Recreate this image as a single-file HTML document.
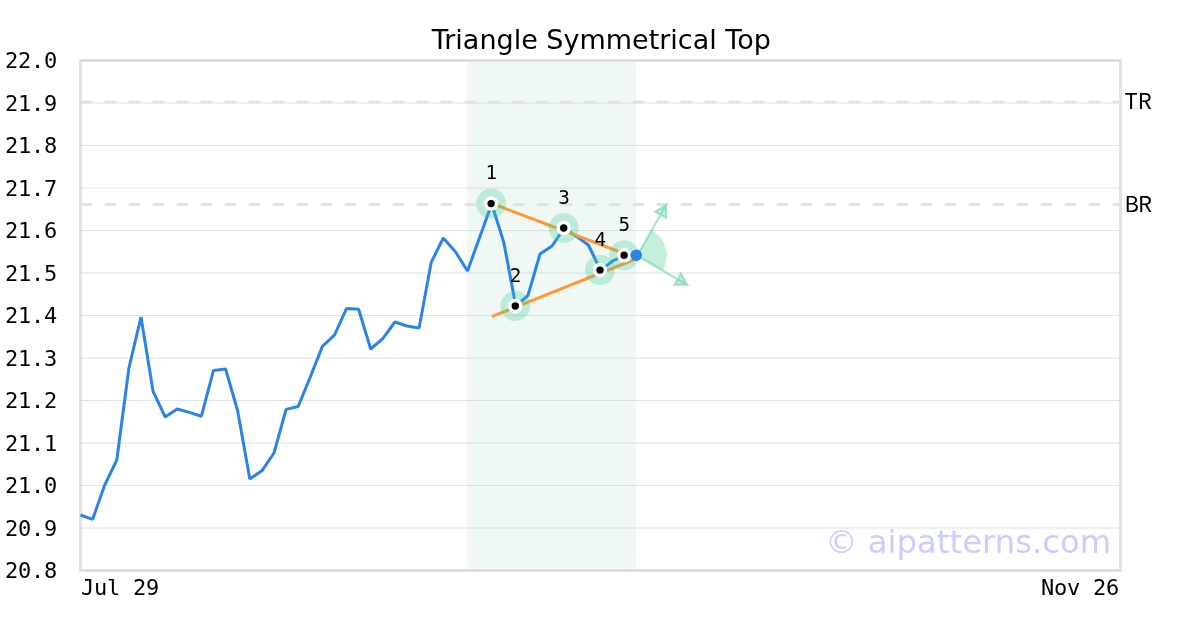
<!DOCTYPE html>
<html><head><meta charset="utf-8"><title>Triangle Symmetrical Top</title>
<style>
html,body{margin:0;padding:0;background:#fff;}
body{width:1200px;height:630px;overflow:hidden;}
svg{display:block;will-change:transform;}
.mono{font-family:"DejaVu Sans Mono","Liberation Mono",monospace;font-size:22px;letter-spacing:-0.24px;fill:#000;}
.title{font-family:"DejaVu Sans","Liberation Sans",sans-serif;font-size:27px;fill:#000;}
.num{font-family:"DejaVu Sans Mono","Liberation Mono",monospace;font-size:19.3px;fill:#000;}
.lab{font-family:"Noto Sans CJK SC","Liberation Sans",sans-serif;font-size:22px;fill:#000;}
.wm{font-family:"DejaVu Sans","Liberation Sans",sans-serif;font-size:32.3px;fill:#ccccfe;}
</style></head><body>
<svg width="1200" height="630" viewBox="0 0 1200 630">
<rect width="1200" height="630" fill="#fff"/>
<text x="601.3" y="49.3" text-anchor="middle" class="title">Triangle Symmetrical Top</text>
<rect x="467" y="60" width="169.4" height="510" fill="#eff8f5"/>
<rect x="80.5" y="60.5" width="1040" height="510" fill="none" stroke="#e3e3e3" stroke-width="3"/>
<line x1="80" x2="1120" y1="60.5" y2="60.5" stroke="#cfcfcf" stroke-opacity="0.6" stroke-width="1.1"/>
<line x1="80" x2="1120" y1="103.0" y2="103.0" stroke="#cfcfcf" stroke-opacity="0.6" stroke-width="1.1"/>
<line x1="80" x2="1120" y1="145.5" y2="145.5" stroke="#cfcfcf" stroke-opacity="0.6" stroke-width="1.1"/>
<line x1="80" x2="1120" y1="188.0" y2="188.0" stroke="#cfcfcf" stroke-opacity="0.6" stroke-width="1.1"/>
<line x1="80" x2="1120" y1="230.5" y2="230.5" stroke="#cfcfcf" stroke-opacity="0.6" stroke-width="1.1"/>
<line x1="80" x2="1120" y1="273.0" y2="273.0" stroke="#cfcfcf" stroke-opacity="0.6" stroke-width="1.1"/>
<line x1="80" x2="1120" y1="315.5" y2="315.5" stroke="#cfcfcf" stroke-opacity="0.6" stroke-width="1.1"/>
<line x1="80" x2="1120" y1="358.0" y2="358.0" stroke="#cfcfcf" stroke-opacity="0.6" stroke-width="1.1"/>
<line x1="80" x2="1120" y1="400.5" y2="400.5" stroke="#cfcfcf" stroke-opacity="0.6" stroke-width="1.1"/>
<line x1="80" x2="1120" y1="443.0" y2="443.0" stroke="#cfcfcf" stroke-opacity="0.6" stroke-width="1.1"/>
<line x1="80" x2="1120" y1="485.5" y2="485.5" stroke="#cfcfcf" stroke-opacity="0.6" stroke-width="1.1"/>
<line x1="80" x2="1120" y1="528.0" y2="528.0" stroke="#cfcfcf" stroke-opacity="0.6" stroke-width="1.1"/>
<line x1="80" x2="1120" y1="570.5" y2="570.5" stroke="#cfcfcf" stroke-opacity="0.6" stroke-width="1.1"/>

<line x1="80.7" x2="1120" y1="102" y2="102" stroke="#e2e2e2" stroke-width="3" stroke-dasharray="11.7 12.3"/>
<line x1="80.7" x2="1120" y1="204.4" y2="204.4" stroke="#e2e2e2" stroke-width="3" stroke-dasharray="11.7 12.3"/>
<text x="1111.3" y="552.5" text-anchor="end" class="wm">© aipatterns.com</text>
<polyline points="80.5,515.0 92.6,519.4 104.7,485.0 116.8,460.0 128.9,368.0 141.0,317.1 153.1,391.4 165.2,417.0 177.2,409.0 189.3,412.4 201.4,416.2 213.5,370.4 225.6,369.0 237.7,411.0 249.8,478.9 261.9,470.8 274.0,453.0 286.1,409.4 298.2,406.5 310.3,377.0 322.4,346.4 334.5,335.0 346.5,308.6 358.6,309.2 370.7,349.0 382.8,338.6 394.9,322.0 407.0,326.0 419.1,328.0 431.2,262.4 443.3,238.0 455.4,251.7 467.5,271.0 479.6,237.4 491.7,204.0 503.8,242.4 515.8,306.0 527.9,295.6 540.0,254.0 552.1,246.0 564.2,228.0 576.3,236.4 588.4,245.0 600.5,270.4 612.6,261.0 624.7,255.4 636.8,255.4" fill="none" stroke="#2a84e8" stroke-width="3" stroke-linejoin="bevel" stroke-linecap="butt"/>
<line x1="491.1" y1="203.2" x2="637" y2="258.4" stroke="#ff9838" stroke-width="3"/>
<line x1="492" y1="316.5" x2="637" y2="258.5" stroke="#ff9838" stroke-width="3"/>
<circle cx="491.1" cy="203.6" r="15" fill="#39c98a" fill-opacity="0.28"/>
<circle cx="515.3" cy="306.0" r="15" fill="#39c98a" fill-opacity="0.28"/>
<circle cx="563.7" cy="228.0" r="15" fill="#39c98a" fill-opacity="0.28"/>
<circle cx="600.0" cy="270.1" r="15" fill="#39c98a" fill-opacity="0.28"/>
<circle cx="624.1" cy="255.3" r="15" fill="#39c98a" fill-opacity="0.28"/>

<path d="M637.3,255.7 L651.86,230.04 A29.5,29.5 0 0 1 662.79,270.55 Z" fill="#39c98a" fill-opacity="0.3"/>
<path d="M637.3,255.7 L665.99,205.13 M665.99,205.13 L665.96,217.75 L655.17,211.63 Z" fill="#39c98a" fill-opacity="0.25" stroke="#39c98a" stroke-opacity="0.42" stroke-width="2.4" stroke-linejoin="miter" stroke-linecap="butt"/>
<path d="M637.3,255.7 L687.19,284.77 M687.19,284.77 L674.56,284.59 L680.81,273.87 Z" fill="#39c98a" fill-opacity="0.25" stroke="#39c98a" stroke-opacity="0.42" stroke-width="2.4" stroke-linejoin="miter" stroke-linecap="butt"/>

<circle cx="491.1" cy="203.6" r="5.475" fill="#000" stroke="#fff" stroke-width="3.55"/>
<text x="491.4" y="179.1" class="num" text-anchor="middle">1</text>
<circle cx="515.3" cy="306.0" r="5.475" fill="#000" stroke="#fff" stroke-width="3.55"/>
<text x="515.6" y="281.5" class="num" text-anchor="middle">2</text>
<circle cx="563.7" cy="228.0" r="5.475" fill="#000" stroke="#fff" stroke-width="3.55"/>
<text x="564.0" y="203.5" class="num" text-anchor="middle">3</text>
<circle cx="600.0" cy="270.1" r="5.475" fill="#000" stroke="#fff" stroke-width="3.55"/>
<text x="600.3" y="245.6" class="num" text-anchor="middle">4</text>
<circle cx="624.1" cy="255.3" r="5.475" fill="#000" stroke="#fff" stroke-width="3.55"/>
<text x="624.4" y="230.8" class="num" text-anchor="middle">5</text>

<circle cx="636.2" cy="255.2" r="5.8" fill="#2a84e8"/>
<text x="5" y="68.0" class="mono">22.0</text>
<text x="5" y="110.5" class="mono">21.9</text>
<text x="5" y="153.0" class="mono">21.8</text>
<text x="5" y="195.5" class="mono">21.7</text>
<text x="5" y="238.0" class="mono">21.6</text>
<text x="5" y="280.5" class="mono">21.5</text>
<text x="5" y="323.0" class="mono">21.4</text>
<text x="5" y="365.5" class="mono">21.3</text>
<text x="5" y="408.0" class="mono">21.2</text>
<text x="5" y="450.5" class="mono">21.1</text>
<text x="5" y="493.0" class="mono">21.0</text>
<text x="5" y="535.5" class="mono">20.9</text>
<text x="5" y="578.0" class="mono">20.8</text>

<text x="81" y="595" class="mono">Jul 29</text>
<text x="1118.95" y="595" text-anchor="end" class="mono">Nov 26</text>
<text x="1124.5" y="109" class="lab">TR</text>
<text x="1124.5" y="212" class="lab" style="letter-spacing:-0.9px">BR</text>
</svg>
</body></html>
